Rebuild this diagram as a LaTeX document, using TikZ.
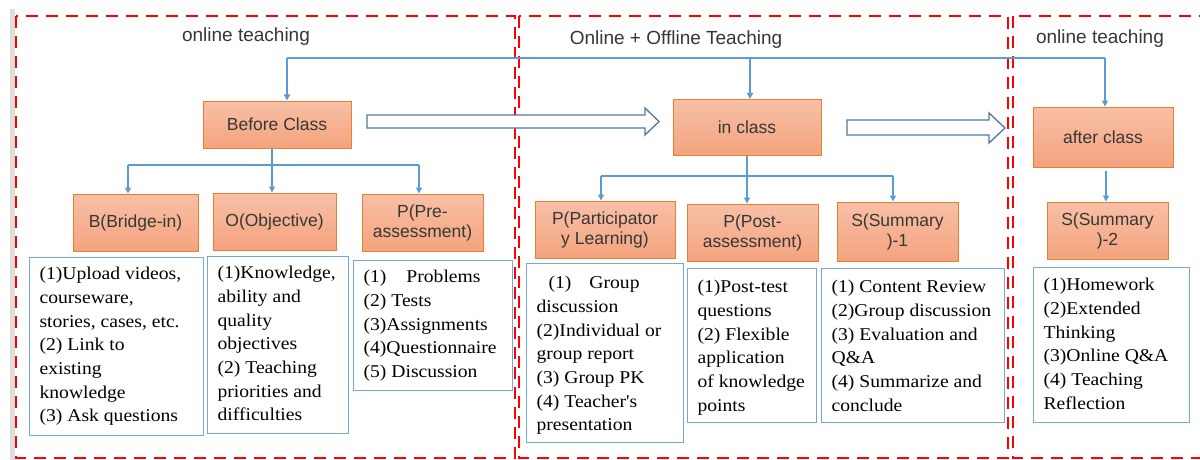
\documentclass[tikz,border=0pt]{standalone}
\usepackage{fontspec}
\setmainfont{Liberation Serif}
\setsansfont{Liberation Sans}
\newfontfamily\boxserif[FakeStretch=1.09]{Liberation Serif}
\usetikzlibrary{arrows.meta}
\definecolor{dashred}{RGB}{255,0,0}
\definecolor{connblue}{RGB}{91,155,213}
\definecolor{boxblue}{RGB}{118,167,219}
\definecolor{arrowblue}{RGB}{76,120,165}
\definecolor{obtop}{RGB}{247,192,167}
\definecolor{obbot}{RGB}{244,163,125}
\definecolor{obline}{RGB}{237,125,49}
\definecolor{txtgray}{RGB}{55,55,55}
\newcommand{\mytb}[4]{\parbox[t][#2][t]{#1}{\raggedright\parindent=0pt\leftskip=10pt\boxserif\fontsize{18}{23.7}\selectfont\rule{0pt}{#3}#4\par}}
\tikzset{
  redbox/.style={draw=dashred, line width=2.7pt, dash pattern=on 12pt off 8pt},
  conn/.style={draw=connblue, line width=1.3pt},
  tip/.style={-{Triangle[width=6pt,length=6pt]}},
  ob/.style={draw=obline, line width=1pt, top color=obtop, bottom color=obbot,
    font=\sffamily\fontsize{17.5}{20}\selectfont, text=txtgray, align=center, inner sep=0pt},
  heading/.style={font=\sffamily\fontsize{19}{23}\selectfont, text=txtgray, inner sep=0pt},
  txtbox/.style={draw=boxblue, line width=1.2pt, inner sep=0pt, anchor=north west, text=black},
  hollow/.style={draw=arrowblue, line width=1.3pt, fill=white, line join=miter}
}
\begin{document}
\begin{tikzpicture}[x=1pt,y=-1pt]
\useasboundingbox (0,0) rectangle (1200,460);
\clip (0,0) rectangle (1200,460);
\fill[white] (0,0) rectangle (1200,460);
\fill[black!13] (10,9) rectangle (15,460);
% dashed regions
\draw[redbox] (16,16) rectangle (515,458);
\draw[redbox] (519,16) rectangle (1008,458);
\draw[redbox] (1013,16) rectangle (1230,458);
% headings
\node[heading] (h1) at (246,37) {online teaching};
\node[heading] (h2) at (676,40) {Online + Offline Teaching};
\node[heading] (h3) at (1100,39) {online teaching};
% main stage boxes
\node[ob, minimum width=148pt, minimum height=47pt] (bc) at (277,124.5) {Before Class};
\node[ob, minimum width=148pt, minimum height=56pt] (ic) at (747,127.5) {in class};
\node[ob, minimum width=140pt, minimum height=60pt] (ac) at (1103,137) {after class};
% sub boxes
\node[ob, minimum width=125pt, minimum height=57pt] (nb) at (135.5,222.5) {B(Bridge-in)};
\node[ob, minimum width=123pt, minimum height=57pt] (no) at (274.5,221.5) {O(Objective)};
\node[ob, minimum width=121pt, minimum height=57pt] (np) at (422.5,222.5) {P(Pre-\\assessment)};
\node[ob, minimum width=140pt, minimum height=57pt] (mp) at (605,229.5) {P(Participator\\y Learning)};
\node[ob, minimum width=131pt, minimum height=57pt] (mq) at (752.5,232.5) {P(Post-\\assessment)};
\node[ob, minimum width=121pt, minimum height=59pt] (ms) at (897.5,231.5) {S(Summary\\)-1};
\node[ob, minimum width=121pt, minimum height=57pt] (as) at (1107.5,230.5) {S(Summary\\)-2};
% top connector
\coordinate (t1) at (287,58);
\coordinate (t2) at (750,58);
\coordinate (t3) at (1105,58);
\draw[conn] (t1) -- (t3);
\draw[conn,tip] (t1) -- (t1 |- bc.north);
\draw[conn,tip] (t2) -- (t2 |- ic.north);
\draw[conn,tip] (t3) -- (t3 |- ac.north);
% before class branch
\coordinate (j1) at (272,165);
\coordinate (j1a) at (128,165);
\coordinate (j1c) at (419,165);
\draw[conn] (bc.south -| j1) -- (j1);
\draw[conn] (j1a) -- (j1c);
\draw[conn,tip] (j1a) -- (j1a |- nb.north);
\draw[conn,tip] (j1) -- (j1 |- no.north);
\draw[conn,tip] (j1c) -- (j1c |- np.north);
% in class branch
\coordinate (j2) at (747,176);
\coordinate (j2a) at (601,176);
\coordinate (j2c) at (893,176);
\draw[conn] (ic.south -| j2) -- (j2);
\draw[conn] (j2a) -- (j2c);
\draw[conn,tip] (j2a) -- (j2a |- mp.north);
\draw[conn,tip] (j2) -- (j2 |- mq.north);
\draw[conn,tip] (j2c) -- (j2c |- ms.north);
% after class branch
\coordinate (k1) at (1106,171);
\draw[conn,tip] (k1) -- (k1 |- as.north);
% hollow arrows
\draw[hollow] (367,115) -- (645,115) -- (645,108) -- (659,121.5) -- (645,135) -- (645,128) -- (367,128) -- cycle;
\draw[hollow] (847,120) -- (989,120) -- (989,113) -- (1005,128) -- (989,143) -- (989,135) -- (847,135) -- cycle;
% text boxes
\node[txtbox] (d1) at (29,257) {\mytb{174pt}{178pt}{22pt}{(1)Upload videos,\\courseware,\\stories, cases, etc.\\(2) Link to\\existing\\knowledge\\(3) Ask questions}};
\node[txtbox] (d2) at (207,256) {\mytb{141pt}{177pt}{22pt}{(1)Knowledge,\\ability and\\quality\\objectives\\(2) Teaching\\priorities and\\difficulties}};
\node[txtbox] (d3) at (353,260) {\mytb{159pt}{130pt}{22pt}{(1)\hspace{20pt}Problems\\(2) Tests\\(3)Assignments\\(4)Questionnaire\\(5) Discussion}};
\node[txtbox] (d4) at (526,263) {\mytb{157pt}{179pt}{25pt}{\hspace*{12pt}(1)\hspace{18pt}Group\\discussion\\(2)Individual or\\group report\\(3) Group PK\\(4) Teacher's\\presentation}};
\node[txtbox] (d5) at (687,268) {\mytb{129pt}{154pt}{24pt}{(1)Post-test\\questions\\(2) Flexible\\application\\of knowledge\\points}};
\node[txtbox] (d6) at (821,268) {\mytb{183pt}{154pt}{24pt}{(1) Content Review\\(2)Group discussion\\(3) Evaluation and\\Q\&A\\(4) Summarize and\\conclude}};
\node[txtbox] (d7) at (1033,267) {\mytb{156pt}{155pt}{23pt}{(1)Homework\\(2)Extended\\Thinking\\(3)Online Q\&A\\(4) Teaching\\Reflection}};
\end{tikzpicture}
\end{document}
